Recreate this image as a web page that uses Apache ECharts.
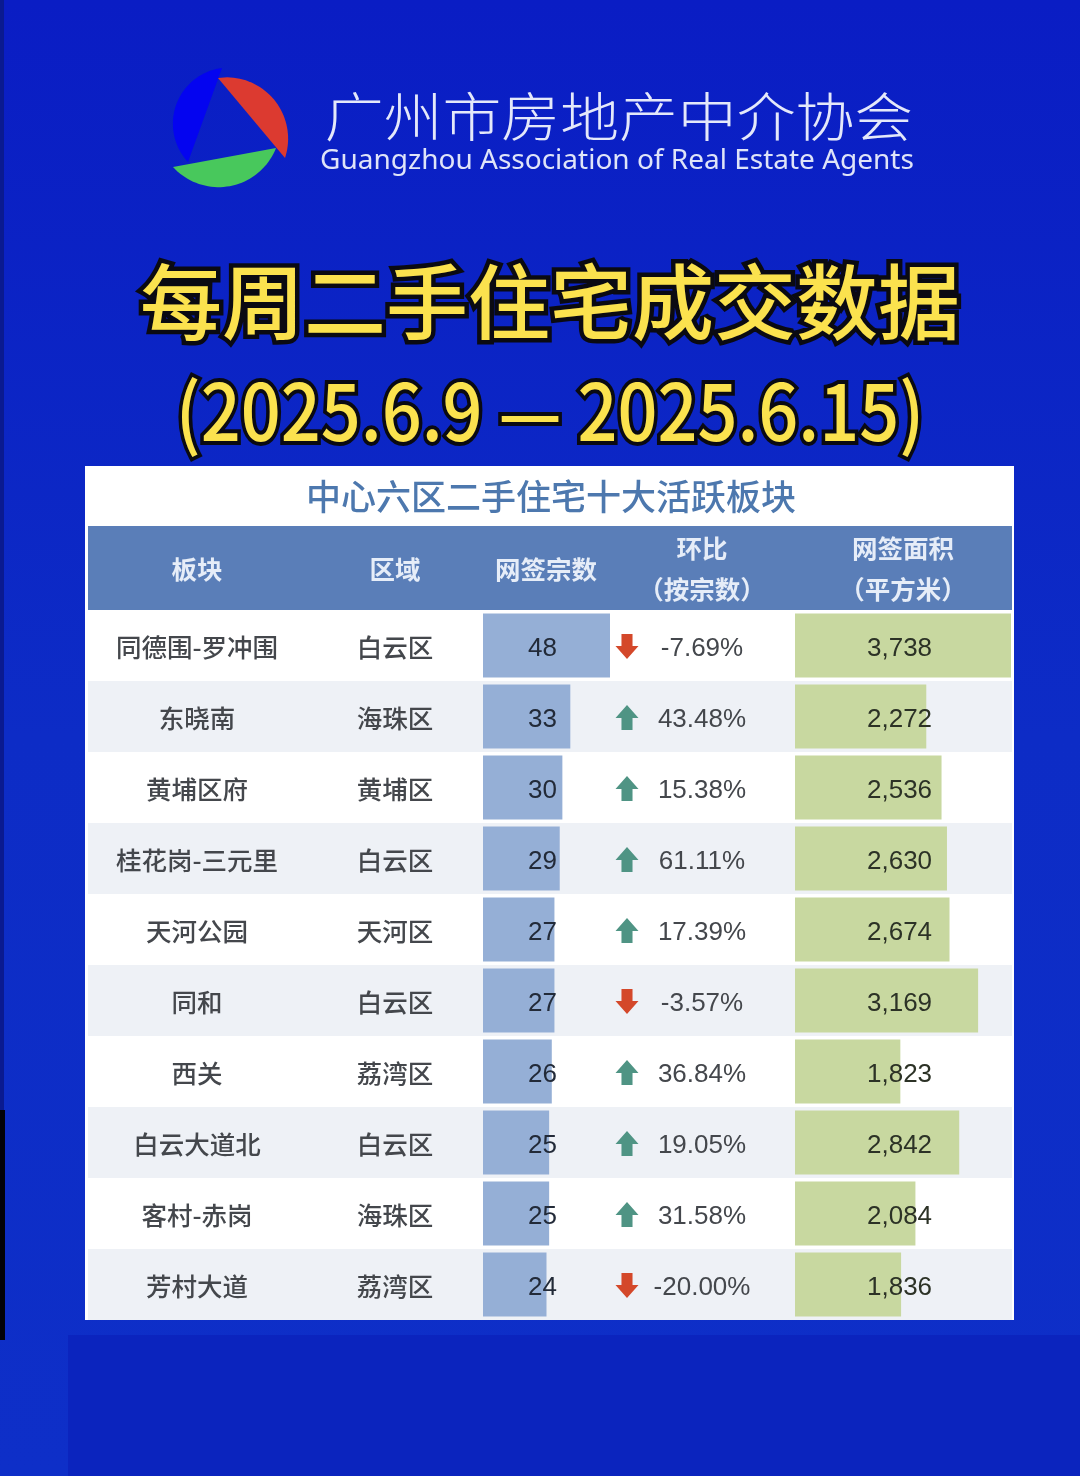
<!DOCTYPE html>
<html><head><meta charset="utf-8">
<style>html,body{margin:0;padding:0;background:#0c22c4}#c{width:1080px;height:1476px}</style>
<script src="https://cdn.jsdelivr.net/npm/echarts@6/dist/echarts.min.js"></script>
</head><body><div id="c"></div>
<script>
const sectors = ['同德围-罗冲围','东晓南','黄埔区府','桂花岗-三元里','天河公园','同和','西关','白云大道北','客村-赤岗','芳村大道'];
const districts = ['白云区','海珠区','黄埔区','白云区','天河区','白云区','荔湾区','白云区','海珠区','荔湾区'];
const counts = [48,33,30,29,27,27,26,25,25,24];
const changes = [-7.69,43.48,15.38,61.11,17.39,-3.57,36.84,19.05,31.58,-20.00];
const areas = [3738,2272,2536,2630,2674,3169,1823,2842,2084,1836];
const headers = ['板块','区域','网签宗数','环比\n（按宗数）','网签面积\n（平方米）'];

const CJK = '"Noto Sans CJK SC",sans-serif';
const LAT = '"Liberation Sans",Arial,sans-serif';
const ARROW_UP = 'path://M50 0 L100 52 L74 52 L74 100 L26 100 L26 52 L0 52 Z';
const ARROW_DOWN = 'path://M26 0 L74 0 L74 48 L100 48 L50 100 L0 48 L26 48 Z';
const fmtPct = v => v.toFixed(2) + '%';
const fmtArea = v => v.toLocaleString('en-US');

// logo: circular segments through chord ends and a bulge point
function segment(a, m, b) {
  const d = 2*(a[0]*(m[1]-b[1])+m[0]*(b[1]-a[1])+b[0]*(a[1]-m[1]));
  const s = p => p[0]*p[0]+p[1]*p[1];
  const cx = (s(a)*(m[1]-b[1])+s(m)*(b[1]-a[1])+s(b)*(a[1]-m[1]))/d;
  const cy = (s(a)*(b[0]-m[0])+s(m)*(a[0]-b[0])+s(b)*(m[0]-a[0]))/d;
  const r = Math.hypot(a[0]-cx,a[1]-cy);
  const ang = p => Math.atan2(p[1]-cy,p[0]-cx);
  let a0 = ang(a), am = ang(m), a1 = ang(b);
  const norm = x => { while (x < 0) x += 2*Math.PI; return x; };
  const ccwM = norm(am-a0), ccw1 = norm(a1-a0);
  const sweep = ccwM < ccw1 ? ccw1 : ccw1-2*Math.PI;
  const pts = [];
  for (let i = 0; i <= 40; i++) { const t = a0+sweep*i/40; pts.push([cx+r*Math.cos(t),cy+r*Math.sin(t)]); }
  return pts;
}

const TOP = 610, H = 710;
const hiddenX = (gridIndex, max) => ({type:'value',gridIndex,min:0,max,show:false});
const catY = (gridIndex, extra) => Object.assign({
  type:'category',gridIndex,position:'left',inverse:true,data:sectors,
  axisLine:{show:false},axisTick:{show:false},axisLabel:{show:false},splitLine:{show:false}
}, extra||{});
const colLabel = (margin, font, formatter) => ({
  show:true,align:'center',margin,fontFamily:font,fontSize:25.5,fontWeight:500,color:'#44474c',
  formatter
});

const heading = (text, x, y, size, color, extra) => ({
  type:'text',x,y,silent:true,z:10,
  style:Object.assign({text,fontFamily:CJK,fontSize:size,fill:color,align:'center',verticalAlign:'middle'},extra||{})
});

const graphic = [
  {type:'rect',silent:true,z:-10,shape:{x:0,y:0,width:1080,height:1476},
   style:{fill:new echarts.graphic.LinearGradient(0,0,0,1,[{offset:0,color:'#0a1dc4'},{offset:.5,color:'#0d2cc6'},{offset:1,color:'#0e2fc8'}])}},
  {type:'rect',silent:true,z:-9,shape:{x:68,y:1335,width:1012,height:141},style:{fill:'#0b24be'}},
  {type:'rect',silent:true,z:-9,shape:{x:0,y:0,width:4,height:1110},style:{fill:'#0a1a90'}},
  {type:'rect',silent:true,z:-9,shape:{x:0,y:1110,width:5,height:230},style:{fill:'#020208'}},
  {type:'polygon',silent:true,shape:{points:segment([222,68],[173,120],[188,162])},style:{fill:'#0404f0'}},
  {type:'polygon',silent:true,shape:{points:segment([218,78],[288,135],[285,158])},style:{fill:'#dc3a30'}},
  {type:'polygon',silent:true,shape:{points:segment([173,167],[223,187],[276,148])},style:{fill:'#48c85c'}},
  {type:'text',silent:true,x:619,y:117,scaleX:1.11,style:{text:'广州市房地产中介协会',fontFamily:CJK,fontWeight:300,fontSize:53,fill:'#e4e8fa',align:'center',verticalAlign:'middle'}},
  {type:'text',silent:true,x:617,y:161,style:{text:'Guangzhou Association of Real Estate Agents',fontFamily:'"Noto Sans",sans-serif',fontSize:28,fill:'#dfe4f8',align:'center',verticalAlign:'middle'}},
  {type:'text',silent:true,x:550,y:302,style:{text:'每周二手住宅成交数据',fontFamily:CJK,fontWeight:500,fontSize:82,fill:'#fbe24e',stroke:'#0a0a12',lineWidth:9,align:'center',verticalAlign:'middle'}},
  {type:'text',silent:true,x:550,y:411,scaleX:.9,style:{text:'(2025.6.9 — 2025.6.15)',fontFamily:CJK,fontWeight:500,fontSize:78,fill:'#fbe24e',stroke:'#0a0a12',lineWidth:8,align:'center',verticalAlign:'middle'}},
  {type:'rect',silent:true,z:-5,shape:{x:85,y:466,width:929,height:854},style:{fill:'#ffffff'}},
  {type:'rect',silent:true,z:-4,shape:{x:88,y:526,width:924,height:84},style:{fill:'#5a7eb8'}},
  heading('中心六区二手住宅十大活跃板块',551,497,35,'#4d78ae',{fontWeight:500}),
  heading(headers[0],197,569,25.5,'#e6edf8',{fontWeight:700}),
  heading(headers[1],395,569,25.5,'#e6edf8',{fontWeight:700}),
  heading(headers[2],546,569,25.5,'#e6edf8',{fontWeight:700}),
  heading(headers[3],702,569,25.5,'#e6edf8',{fontWeight:700,lineHeight:41}),
  heading(headers[4],903,569,25.5,'#e6edf8',{fontWeight:700,lineHeight:41})
];

const option = {
  animation:false,
  backgroundColor:'#0c22c4',
  graphic,
  grid:[
    {left:88,top:TOP,width:924,height:H},
    {left:483,top:TOP,width:127,height:H},
    {left:795,top:TOP,width:216,height:H},
    {left:612,top:TOP,width:30,height:H},
    {left:88,top:TOP+2,width:924,height:H},
    {left:88,top:TOP+3,width:924,height:H}
  ],
  xAxis:[hiddenX(0,1),hiddenX(1,48),hiddenX(2,3738),hiddenX(3,1),hiddenX(4,1),hiddenX(5,1)],
  yAxis:[
    catY(0,{splitArea:{show:true,areaStyle:{color:['#ffffff','#eef1f6'],opacity:1}}}),
    catY(4,{axisLabel:colLabel(-109,CJK)}),
    catY(4,{data:districts,axisLabel:colLabel(-307,CJK)}),
    catY(1),
    catY(2),
    catY(3),
    catY(5,{data:changes,axisLabel:Object.assign(colLabel(-614,LAT,v=>fmtPct(+v)),{fontSize:26,fontWeight:400})})
  ],
  series:[
    {type:'bar',xAxisIndex:1,yAxisIndex:3,data:counts,barWidth:64,itemStyle:{color:'#95afd6'},z:3,
     label:{show:true,position:'insideLeft',distance:45,offset:[0,3],fontFamily:LAT,fontSize:26,color:'#222a38'}},
    {type:'bar',xAxisIndex:2,yAxisIndex:4,data:areas,barWidth:64,itemStyle:{color:'#c8d8a0'},z:3,
     label:{show:true,position:'insideLeft',distance:72,offset:[0,3],fontFamily:LAT,fontSize:26,color:'#2c3226',
       formatter:p=>fmtArea(p.value)}},
    {type:'scatter',xAxisIndex:3,yAxisIndex:5,
     data:changes.map((v,i)=>({value:[.5,i],symbol:v<0?ARROW_DOWN:ARROW_UP,itemStyle:{color:v<0?'#d4482a':'#4f9484',opacity:1}})),
     symbolSize:[23,25],symbolOffset:[0,1],z:3}
  ]
};
echarts.init(document.getElementById('c')).setOption(option);
</script></body></html>
